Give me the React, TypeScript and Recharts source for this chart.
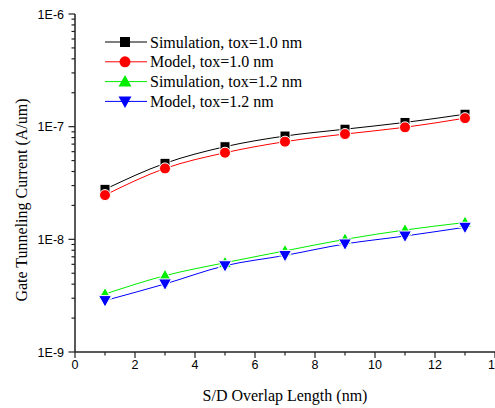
import React from 'react'
import { LineChart, Line, XAxis, YAxis } from 'recharts'

// S/D overlap length (nm)
const overlapNm = [1, 3, 5, 7, 9, 11, 13]
// gate tunneling current (A/um)
const simTox10 = [2.78e-8, 4.73e-8, 6.64e-8, 8.26e-8, 9.5e-8, 1.09e-7, 1.29e-7]
const modelTox10 = [2.47e-8, 4.26e-8, 5.87e-8, 7.36e-8, 8.6e-8, 9.87e-8, 1.19e-7]
const simTox12 = [3.27e-9, 4.76e-9, 6.2e-9, 7.9e-9, 1.0e-8, 1.21e-8, 1.41e-8]
const modelTox12 = [2.86e-9, 4.02e-9, 5.83e-9, 7.2e-9, 9.1e-9, 1.07e-8, 1.28e-8]

const xTicks = [0, 1, 2, 3, 4, 5, 6, 7, 8, 9, 10, 11, 12, 13, 14]
const yDecades = [1e-9, 1e-8, 1e-7, 1e-6]
const yDecadeLabels = ['1E-9', '1E-8', '1E-7', '1E-6']
const yMinorSteps = [2, 3, 4, 5, 6, 7, 8, 9]

const series = [
  { key: 'simTox10', name: 'Simulation, tox=1.0 nm', color: '#000000', shape: 'square' },
  { key: 'modelTox10', name: 'Model, tox=1.0 nm', color: '#ff0000', shape: 'circle' },
  { key: 'simTox12', name: 'Simulation, tox=1.2 nm', color: '#00ee00', shape: 'up' },
  { key: 'modelTox12', name: 'Model, tox=1.2 nm', color: '#0000ff', shape: 'down' },
]

const data = overlapNm.map((x, i) => ({
  x,
  simTox10: simTox10[i],
  modelTox10: modelTox10[i],
  simTox12: simTox12[i],
  modelTox12: modelTox12[i],
}))

const yTicks = yDecades.flatMap((d, i) =>
  i < yDecades.length - 1 ? [d, ...yMinorSteps.map(m => m * d)] : [d]
)

const SERIF = '"Liberation Serif", "Times New Roman", serif'
const SANS = '"Liberation Sans", Arial, sans-serif'
const AXIS = '#222'

const Marker = ({ cx, cy, shape, color, outline }: any) => {
  const stroke = outline ? '#fff' : 'none'
  if (shape === 'square') {
    return <rect x={cx - 5} y={cy - 5} width={10} height={10} fill={color} stroke={stroke} />
  }
  if (shape === 'circle') {
    return <circle cx={cx} cy={cy} r={5.5} fill={color} stroke={stroke} />
  }
  if (shape === 'up') {
    return <path d={`M${cx},${cy - 6.5}L${cx + 6.5},${cy + 5}L${cx - 6.5},${cy + 5}Z`} fill={color} stroke={stroke} />
  }
  return <path d={`M${cx},${cy + 6.5}L${cx + 6.5},${cy - 5}L${cx - 6.5},${cy - 5}Z`} fill={color} stroke={stroke} />
}

const XTick = ({ x, y, payload }: any) => {
  const major = payload.value % 2 === 0
  return (
    <g>
      <line x1={x} y1={y} x2={x} y2={y + (major ? 6 : 3.5)} stroke={AXIS} strokeWidth={1.2} />
      {major && (
        <text x={x} y={y + 17} textAnchor="middle" fontFamily={SANS} fontSize={12.5} fill="#000">
          {payload.value}
        </text>
      )}
    </g>
  )
}

const YTick = ({ x, y, payload }: any) => {
  const idx = yDecades.findIndex(d => Math.abs(d - payload.value) / d < 1e-6)
  const major = idx >= 0
  return (
    <g>
      <line x1={x} y1={y} x2={x - (major ? 6.5 : 3.5)} y2={y} stroke={AXIS} strokeWidth={1.2} />
      {major && (
        <text x={x - 11} y={y + 4.5} textAnchor="end" fontFamily={SANS} fontSize={12.5} fill="#000">
          {yDecadeLabels[idx]}
        </text>
      )}
    </g>
  )
}

const YTitle = () => (
  <text
    transform="translate(27, 200) rotate(-90)"
    textAnchor="middle"
    fontFamily={SERIF}
    fontSize={16}
    fill="#000"
  >
    Gate Tunneling Current (A/um)
  </text>
)

const XTitle = () => (
  <text x={285} y={401} textAnchor="middle" fontFamily={SERIF} fontSize={16} fill="#000">
    S/D Overlap Length (nm)
  </text>
)

const LegendBox = () => (
  <svg width={230} height={86} style={{ display: 'block' }}>
    {series.map((s, i) => (
      <g key={s.key} transform={`translate(0, ${10 + i * 19.8})`}>
        <line x1={0} y1={0} x2={42} y2={0} stroke={s.color} strokeWidth={1} />
        <Marker cx={20} cy={0} shape={s.shape} color={s.color} />
        <text x={45} y={5.5} fontFamily={SERIF} fontSize={16} fill="#000">
          {s.name}
        </text>
      </g>
    ))}
  </svg>
)

export default function App() {
  return (
    <div style={{ position: 'absolute', left: 0, top: 0, width: 495, height: 408, background: '#fff' }}>
      <LineChart
        width={495}
        height={408}
        data={data}
        margin={{ top: 14, right: 0, bottom: 0, left: 0 }}
      >
        <XAxis
          dataKey="x"
          type="number"
          domain={[0, 14]}
          ticks={xTicks}
          interval={0}
          height={56}
          tickSize={0}
          tickMargin={0}
          tickLine={false}
          tick={<XTick />}
          stroke={AXIS}
          strokeWidth={1.5}
          label={{ content: () => <XTitle /> }}
        />
        <YAxis
          type="number"
          scale="log"
          domain={[1e-9, 1e-6]}
          allowDataOverflow
          ticks={yTicks}
          interval={0}
          width={75}
          tickSize={0}
          tickMargin={0}
          tickLine={false}
          tick={<YTick />}
          stroke={AXIS}
          strokeWidth={1.5}
          label={{ content: () => <YTitle /> }}
        />
        {series.map(s => (
          <Line
            key={s.key}
            dataKey={s.key}
            name={s.name}
            type="monotone"
            stroke={s.color}
            strokeWidth={1}
            isAnimationActive={false}
            dot={(p: any) => (
              <Marker key={`${s.key}-${p.index}`} cx={p.cx} cy={p.cy} shape={s.shape} color={s.color} outline />
            )}
            activeDot={false}
          />
        ))}
      </LineChart>
      <div style={{ position: 'absolute', left: 105, top: 32 }}>
        <LegendBox />
      </div>
    </div>
  )
}
